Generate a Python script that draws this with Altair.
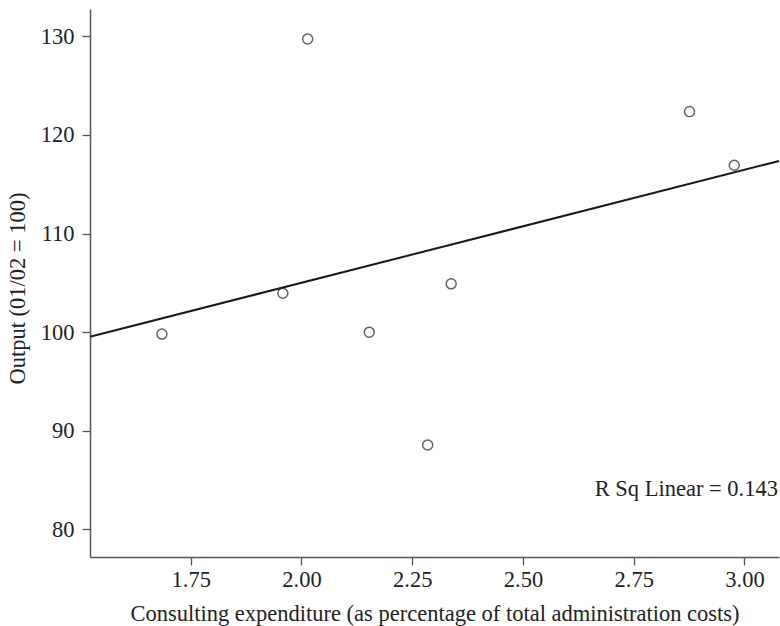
import altair as alt
import pandas as pd

# Data
consulting = [1.685, 1.958, 2.014, 2.153, 2.285, 2.338, 2.876, 2.977]
output = [99.8, 103.95, 129.74, 100.0, 88.55, 104.9, 122.37, 116.93]
x_ticks = [1.75, 2.00, 2.25, 2.50, 2.75, 3.00]
y_ticks = [80, 90, 100, 110, 120, 130]
x_domain = [1.5227, 3.078]
y_domain = [77.19, 132.78]
annotation = "R Sq Linear = 0.143"

df = pd.DataFrame({"x": consulting, "y": output})

FONT = "Liberation Serif"
FS = 22.5
W, H = 689, 548

x_enc = alt.X(
    "x:Q",
    scale=alt.Scale(domain=x_domain, nice=False, zero=False),
    axis=alt.Axis(
        values=x_ticks, format=".2f", grid=False,
        title="Consulting expenditure (as percentage of total administration costs)",
        titleX=W / 2, titleY=56, titleBaseline="middle", titleAlign="center",
    ),
)
y_enc = alt.Y(
    "y:Q",
    scale=alt.Scale(domain=y_domain, nice=False, zero=False),
    axis=alt.Axis(
        values=y_ticks, grid=False,
        title="Output (01/02 = 100)",
        titleX=-73, titleY=279, titleAngle=-90,
        titleAlign="center", titleBaseline="middle",
    ),
)

base = alt.Chart(df)

points = base.mark_point(
    shape="circle", filled=False, size=100, strokeWidth=1.5, color="#222222"
).encode(x=x_enc, y=y_enc)

line = base.transform_regression(
    "x", "y", extent=x_domain
).mark_line(color="#1a1a1a", strokeWidth=2).encode(x="x:Q", y="y:Q")

text = alt.Chart(pd.DataFrame({"t": [annotation]})).mark_text(
    align="right", baseline="alphabetic", font=FONT, fontSize=FS, color="#222222"
).encode(text="t:N", x=alt.value(688), y=alt.value(487))

chart = (
    alt.layer(line, points, text)
    .properties(
        width=W, height=H,
        autosize=alt.AutoSizeParams(type="none"),
        padding={"left": 90, "top": 9, "right": 1, "bottom": 69},
    )
    .configure_view(stroke=None)
    .configure_axis(
        labelFont=FONT, titleFont=FONT,
        labelFontSize=FS, titleFontSize=FS,
        labelColor="#222222", titleColor="#222222",
        titleFontWeight="normal",
        domainColor="#555555", tickColor="#555555",
        domainWidth=1.5, tickWidth=1.3, tickSize=8,
        labelPadding=3,
    )
    .configure_axisY(labelPadding=8)
)

chart.save("out.html", embed_options={"renderer": "svg", "actions": False})
